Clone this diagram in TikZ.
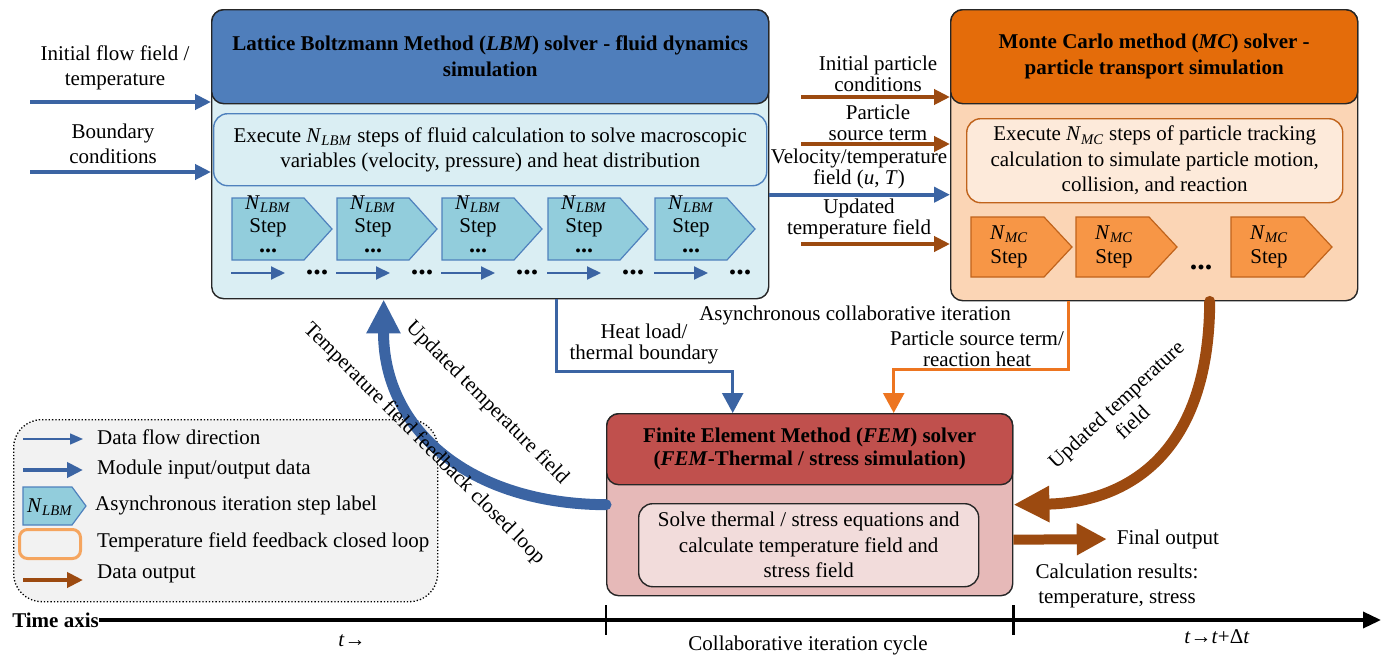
\documentclass[tikz,border=0pt]{standalone}
\usepackage{fontspec}
\setmainfont{Liberation Serif}
\usetikzlibrary{arrows.meta}
\definecolor{frame}{HTML}{262626}
\definecolor{lbmhead}{HTML}{4F7EBB}
\definecolor{lbmbody}{HTML}{DAEEF3}
\definecolor{lbmline}{HTML}{4F81BD}
\definecolor{lbmstep}{HTML}{92CDDC}
\definecolor{flowblue}{HTML}{3B64A3}
\definecolor{mchead}{HTML}{E46C0A}
\definecolor{mcbody}{HTML}{FBD5B5}
\definecolor{mcinner}{HTML}{FDEADA}
\definecolor{mcline}{HTML}{C0631B}
\definecolor{mcstep}{HTML}{F79646}
\definecolor{brownout}{HTML}{9C4A10}
\definecolor{orangeconn}{HTML}{ED7520}
\definecolor{femhead}{HTML}{C0504D}
\definecolor{fembody}{HTML}{E6B9B8}
\definecolor{feminner}{HTML}{F2DCDB}
\definecolor{legfill}{HTML}{F2F2F2}
\definecolor{legorange}{HTML}{F5A55F}
\newcommand\bodyfont{\fontsize{21}{25.5}\selectfont}
\newcommand\tightfont{\fontsize{21}{21.5}\selectfont}
\newcommand\ttlfont{\fontsize{21}{26}\selectfont\bfseries}
\newcommand\dotfont{\fontsize{30}{30}\selectfont\bfseries}
\newcommand\NL{\textit{N}\textsubscript{\textit{LBM}}}
\newcommand\NM{\textit{N}\textsubscript{\textit{MC}}}
% name, left, top, width, height, tip, style
\newcommand\pentag[7]{%
  \path[#7] (#2,#3) -- ({#2+#4-#6},#3) -- ({#2+#4},{#3+#5/2}) -- ({#2+#4-#6},{#3+#5}) -- (#2,{#3+#5}) -- cycle;
  \coordinate (#1) at ({#2+(#4-#6)/2},{#3+#5/2});}
\begin{document}
\begin{tikzpicture}[x=1pt,y=-1pt,
  every node/.style={font=\bodyfont, inner sep=0pt, align=center},
  outer/.style={draw=frame, line width=1.4pt, rounded corners=12pt, anchor=north west},
  inbox/.style={line width=1.4pt, rounded corners=14pt, anchor=north west},
  inblue/.style={draw=flowblue, line width=4pt, -{Triangle[length=16pt,width=15pt]}},
  inbrown/.style={draw=brownout, line width=4pt, -{Triangle[length=16pt,width=15pt]}},
  conn/.style={line width=2.6pt, -{Triangle[length=20pt,width=21pt]}},
  steparrow/.style={draw=flowblue, line width=2pt, -{Triangle[length=14pt,width=13pt]}},
  lstep/.style={fill=lbmstep, draw=lbmline, line width=1.2pt},
  mstep/.style={fill=mcstep, draw=mcline, line width=1.2pt},
  bigblue/.style={draw=flowblue, line width=11pt, line cap=round, -{Triangle[length=34pt,width=32pt]}},
  bigbrown/.style={draw=brownout, line width=11pt, line cap=round, -{Triangle[length=36pt,width=34pt]}},
]
\useasboundingbox (0,0) rectangle (1390,656);

% ---------- LBM ----------
\node[outer, fill=lbmbody, minimum width=557pt, minimum height=289pt] (lbm) at (211,9) {};
\node[outer, fill=lbmhead, minimum width=557pt, minimum height=94pt, font=\ttlfont] (lbmh) at (211,9) {Lattice Boltzmann Method (\textit{LBM}) solver - fluid dynamics\\simulation};
\node[inbox, draw=lbmline, fill=lbmbody, minimum width=553pt, minimum height=72pt] (lbmt) at (213,113) {Execute \NL\ steps of fluid calculation to solve macroscopic\\variables (velocity, pressure) and heat distribution};
\foreach \i/\x in {1/232,2/337,3/442,4/548,5/655}{
  \pentag{lp\i}{\x}{198}{100}{62}{28}{lstep}
  \node (lpn\i) at ({\x+36},204) {\NL};
  \node (lps\i) at ({\x+36},228) {Step};
  \node[font=\fontsize{24}{24}\selectfont\bfseries] (lpd\i) at ({\x+36},251) {...};
  \coordinate (ra\i) at ({\x-1},273);
  \coordinate (rb\i) at ({\x+53},273);
  \draw[steparrow] (ra\i) -- (rb\i);
  \node[font=\dotfont] (rd\i) at ({\x+85},272) {...};
}

% ---------- MC ----------
\node[outer, fill=mcbody, minimum width=407pt, minimum height=291pt] (mc) at (950,9) {};
\node[outer, fill=mchead, minimum width=407pt, minimum height=94pt, font=\ttlfont] (mch) at (950,9) {Monte Carlo method (\textit{MC}) solver -\\particle transport simulation};
\node[inbox, draw=mcline, fill=mcinner, minimum width=376pt, minimum height=84pt] (mct) at (966,118) {Execute \NM\ steps of particle tracking\\calculation to simulate particle motion,\\collision, and reaction};
\foreach \i/\x in {1/971,2/1076,3/1231}{
  \pentag{mp\i}{\x}{217}{101}{60}{28}{mstep}
  \node (mpn\i) at ({\x+38},234) {\NM};
  \node (mps\i) at ({\x+38},259) {Step};
}
\node[font=\dotfont] (mpd) at (1201,267) {...};

% ---------- FEM ----------
\node[outer, fill=fembody, minimum width=406pt, minimum height=182pt] (fem) at (606,413) {};
\node[outer, fill=femhead, minimum width=406pt, minimum height=71pt, font=\fontsize{21}{23}\selectfont\bfseries] (femh) at (606,413) {Finite Element Method (\textit{FEM}) solver\\(\textit{FEM}-Thermal / stress simulation)};
\node[inbox, draw=frame, fill=feminner, minimum width=340pt, minimum height=83pt] (femt) at (638,503) {Solve thermal / stress equations and\\calculate temperature field and\\stress field};

% ---------- legend ----------
\node[draw=black, dotted, line width=1.3pt, rounded corners=28pt, fill=legfill, minimum width=424pt, minimum height=182pt, anchor=north west] (leg) at (13,419) {};
\coordinate (lg1a) at (23,439); \coordinate (lg1b) at (83,439);
\draw[draw=flowblue, line width=1.5pt, -{Triangle[length=13pt,width=11pt]}] (lg1a) -- (lg1b);
\node[anchor=west] (lt1) at (97,437) {Data flow direction};
\coordinate (lg2a) at (23,470); \coordinate (lg2b) at (83,470);
\draw[inblue] (lg2a) -- (lg2b);
\node[anchor=west] (lt2) at (97,469) {Module input/output data};
\pentag{lgp}{23}{487}{63}{38}{14}{lstep}
\node (lgpn) at (50,507) {\NL};
\node[anchor=west] (lt3) at (95,505) {Asynchronous iteration step label};
\node[draw=legorange, line width=3pt, rounded corners=8pt, minimum width=61pt, minimum height=29pt] (lgo) at (50,544) {};
\node[anchor=west] (lt4) at (97,542) {Temperature field feedback closed loop};
\coordinate (lg5a) at (23,580); \coordinate (lg5b) at (83,580);
\draw[inbrown] (lg5a) -- (lg5b);
\node[anchor=west] (lt5) at (97,574) {Data output};

% ---------- inputs ----------
\node (li1) at (115,68) {Initial flow field /\\temperature};
\node (li2) at (113,144) {Boundary\\conditions};
\coordinate (la1) at (30,102); \draw[inblue] (la1) -- (la1 -| lbm.west);
\coordinate (la2) at (30,172); \draw[inblue] (la2) -- (la2 -| lbm.west);

\node[font=\tightfont] (mi1) at (878,74) {Initial particle\\conditions};
\node[font=\tightfont] (mi2) at (878,123) {Particle\\source term};
\node[font=\tightfont] (mi3) at (859,169) {Velocity/temperature\\field (\textit{u}, \textit{T})};
\node[font=\tightfont] (mi4) at (859,219) {Updated\\temperature field};
\coordinate (mia1) at (801,97);  \draw[inbrown] (mia1) -- (mia1 -| mc.west);
\coordinate (mia2) at (801,144); \draw[inbrown] (mia2) -- (mia2 -| mc.west);
\coordinate (vel) at ([yshift=-40.5pt]lbm.east); \draw[inblue] (vel) -- (vel -| mc.west);
\coordinate (mia4) at (801,244); \draw[inbrown] (mia4) -- (mia4 -| mc.west);

% ---------- connectors to FEM ----------
\draw[conn, draw=flowblue] ([xshift=66.5pt]lbm.south) -- ++(0,72) -| ([xshift=-77pt]femh.north);
\draw[conn, draw=orangeconn] ([xshift=-85.5pt]mc.south) -- ++(0,68) -| ([xshift=84pt]femh.north);
\node[font=\tightfont] (hl) at (644,344) {Heat load/\\thermal boundary};
\node (async) at (855,315) {Asynchronous collaborative iteration};
\node[font=\tightfont] (pst) at (977,349) {Particle source term/\\reaction heat};

% ---------- feedback loops ----------
\draw[bigblue] (fem.west) .. controls (470,504) and (383,430) .. ([xshift=-106.5pt]lbm.south);
\node[rotate=-45] (utf) at (487,403) {Updated temperature field};
\node[rotate=-45] (tffl) at (424,444) {Temperature field feedback closed loop};
\draw[bigbrown] ([xshift=55.5pt]mc.south) .. controls (1209,470) and (1110,503) .. (fem.east);
\node[rotate=43, font=\fontsize{21}{24}\selectfont] (utf2) at (1124,413) {Updated temperature\\field};

% ---------- output ----------
\node (fo) at (1168,539) {Final output};
\draw[draw=brownout, line width=10pt, -{Triangle[length=30pt,width=30pt]}, shorten >=10pt] ([yshift=-35pt]fem.east) -- (fo.west);
\node (cr) at (1117,586) {Calculation results:\\temperature, stress};

% ---------- time axis ----------
\node[anchor=east, font=\fontsize{21}{25}\selectfont\bfseries] (ta) at (99,620) {Time axis};
\coordinate (tend) at (1381,620);
\draw[line width=3.5pt, -{Triangle[length=18pt,width=16pt]}] (ta.east) -- (tend);
\draw[line width=2.5pt] ([yshift=-9pt]fem.south west) -- ++(0,30);
\draw[line width=2.5pt] ([yshift=-9pt]fem.south east) -- ++(0,30);
\node (t1) at (352,641) {\textit{t}→};
\node (t2) at (808,645) {Collaborative iteration cycle};
\node (t3) at (1217,637) {\textit{t}→\textit{t}+Δ\textit{t}};
\end{tikzpicture}
\end{document}
